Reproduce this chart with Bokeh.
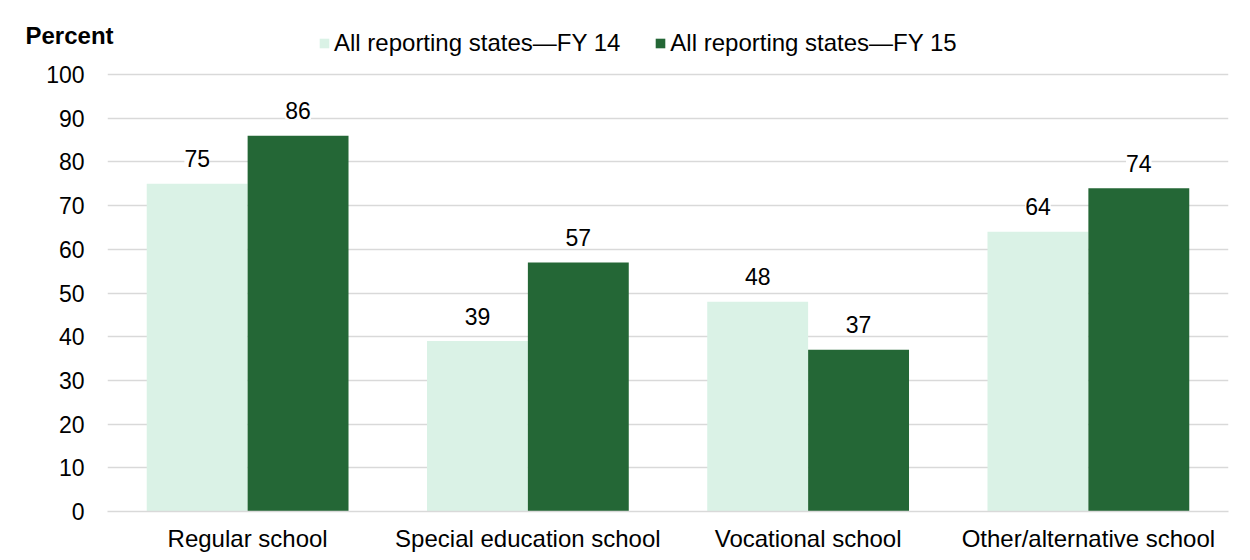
from bokeh.plotting import figure
from bokeh.models import FactorRange, Range1d, Label, LabelSet, Legend, LegendItem, ColumnDataSource
from bokeh.core.properties import value
from bokeh.transform import dodge
from bokeh.embed import file_html
from bokeh.resources import INLINE

categories = ["Regular school", "Special education school", "Vocational school", "Other/alternative school"]
fy14 = [75, 39, 48, 64]
fy15 = [86, 57, 37, 74]
series_names = ["All reporting states\u2014FY 14", "All reporting states\u2014FY 15"]
y_ticks = [0, 10, 20, 30, 40, 50, 60, 70, 80, 90, 100]

LIGHT = "#daf2e6"
DARK = "#246736"
FONT = "Liberation Sans"
W, H = 1245, 556

src = ColumnDataSource(dict(cat=categories, fy14=fy14, fy15=fy15,
                            t14=[str(v) for v in fy14], t15=[str(v) for v in fy15]))

# frame extends above the 100 line so that the legend sits inside it
p = figure(x_range=FactorRange(*categories, range_padding=0), y_range=Range1d(0, 110.76),
           width=W, height=H, output_backend="svg", toolbar_location=None,
           min_border_left=107, min_border_right=17, min_border_top=27, min_border_bottom=45)
p.outline_line_color = None
p.background_fill_color = "white"
p.border_fill_color = "white"

r1 = p.vbar(x=dodge("cat", -0.18, range=p.x_range), top="fy14", width=0.36, source=src,
            fill_color=LIGHT, line_color=None)
r2 = p.vbar(x=dodge("cat", 0.18, range=p.x_range), top="fy15", width=0.36, source=src,
            fill_color=DARK, line_color=None)

# axes
p.xgrid.grid_line_color = None
p.ygrid.grid_line_color = "#d9d9d9"
p.ygrid.grid_line_width = 1.5
p.yaxis.ticker = y_ticks
p.yaxis.axis_line_color = None
p.yaxis.major_tick_line_color = None
p.yaxis.minor_tick_line_color = None
p.yaxis.major_label_text_font = FONT
p.yaxis.major_label_text_font_size = "23px"
p.yaxis.major_label_text_color = "black"
p.yaxis.major_label_standoff = 17

p.xaxis.axis_line_color = "#d9d9d9"
p.xaxis.axis_line_width = 1.5
p.xaxis.major_tick_line_color = None
p.xaxis.minor_tick_line_color = None
p.xaxis.major_label_text_font = FONT
p.xaxis.major_label_text_font_size = "24px"
p.xaxis.major_label_text_color = "black"
p.xaxis.major_label_standoff = 7

# data labels
for col, tcol, off in (("fy14", "t14", -0.18), ("fy15", "t15", 0.18)):
    kw = dict(x=dodge("cat", off, range=p.x_range), y=col, text=tcol, source=src,
              y_offset=25, text_align="center", text_baseline="middle",
              text_font=value(FONT), text_font_size="23px", text_color="black",
              background_fill_color="white")
    if "padding" in LabelSet.properties():
        kw["padding"] = 8
    p.add_layout(LabelSet(**kw))

# "Percent" label, placed in a side panel so that it is not clipped to the frame
p.add_layout(Label(x=25, y=35, x_units="canvas", y_units="canvas", text="Percent",
                   text_align="left", text_baseline="middle", text_font=FONT,
                   text_font_size="24px", text_font_style="bold", text_color="black"),
             "above")

legend = Legend(items=[LegendItem(label=series_names[0], renderers=[r1]),
                       LegendItem(label=series_names[1], renderers=[r2])],
                location=(211, 454), orientation="horizontal",
                label_text_font=FONT, label_text_font_size="24px", label_text_color="black",
                glyph_width=12, glyph_height=12, label_height=24, label_standoff=4,
                spacing=34, padding=0, margin=0,
                border_line_color=None, background_fill_alpha=0)
p.add_layout(legend, "center")

open("out.html", "w").write(file_html(p, INLINE))
